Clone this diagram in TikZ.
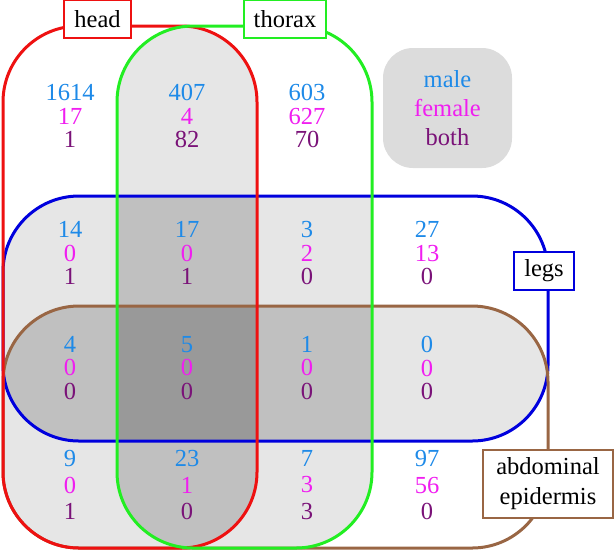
\documentclass[tikz,border=0pt]{standalone}
\usepackage{fontspec}
\setmainfont{Liberation Serif}
\usepackage{xcolor}
\definecolor{male}{HTML}{1E8AE8}
\definecolor{female}{HTML}{F01EF0}
\definecolor{both}{HTML}{7A1278}
\definecolor{headc}{HTML}{EE1111}
\definecolor{thoraxc}{HTML}{22EE22}
\definecolor{legsc}{HTML}{0000DD}
\definecolor{abdc}{HTML}{996644}
\definecolor{lap2}{HTML}{E6E6E6}
\definecolor{lap3}{HTML}{C0C0C0}
\definecolor{lap4}{HTML}{999999}
\definecolor{keybg}{HTML}{DCDCDC}

% the four sets, in pixels
\def\headset{(3,26) rectangle (257,548)}
\def\thoraxset{(117,26) rectangle (372,548)}
\def\legsset{(3,196) rectangle (548,441)}
\def\abdset{(3,306) rectangle (548,548)}
\newcommand{\mfb}[3]{\textcolor{male}{#1}\\\textcolor{female}{#2}\\\textcolor{both}{#3}}

\begin{document}
\begin{tikzpicture}[x=0.5pt, y=-0.5pt,
    set/.style={rounded corners=38pt},
    rim/.style={set, draw=#1, line width=1.5pt},
    tag/.style={rectangle, draw=#1, fill=white, line width=1pt,
                inner xsep=5pt, minimum height=19pt, font=\fontsize{12.25}{15}\selectfont},
    counts/.style={align=center, inner sep=0pt, font=\fontsize{12.25}{11.8}\selectfont},
    keybox/.style={rectangle, rounded corners=15pt, fill=keybg, align=center,
                   minimum width=64.5pt, minimum height=60pt, font=\fontsize{12.25}{14.5}\selectfont}
]
\useasboundingbox (0,0) rectangle (614,553);

% overlaps: two, three and four sets
\foreach \p/\q in {\headset/\thoraxset,\headset/\legsset,\headset/\abdset,
                   \thoraxset/\legsset,\thoraxset/\abdset,\legsset/\abdset}
  {\begin{scope}\clip[set] \p; \fill[set, lap2] \q; \end{scope}}
\foreach \p/\q/\r in {\headset/\thoraxset/\legsset,\headset/\thoraxset/\abdset,
                      \headset/\legsset/\abdset,\thoraxset/\legsset/\abdset}
  {\begin{scope}\clip[set] \p; \clip[set] \q; \fill[set, lap3] \r; \end{scope}}
\begin{scope}
  \clip[set] \headset; \clip[set] \thoraxset; \clip[set] \legsset;
  \fill[set, lap4] \abdset;
\end{scope}

\draw[rim=legsc] \legsset;
\draw[rim=abdc] \abdset;
\draw[rim=headc] \headset;
\draw[rim=thoraxc] \thoraxset;

\node[tag=headc] (head) at (97.5,19) {head};
\node[tag=thoraxc] (thorax) at (285,19) {thorax};
\node[tag=legsc] (legs) at (544,271) {legs};
\node[tag=abdc, align=center, minimum width=65pt, minimum height=34pt] (abd) at (548,484) {abdominal\\epidermis};

\node[keybox] (key) at (447.5,108) {\textcolor{male}{male}\\\textcolor{female}{female}\\\textcolor{both}{both}};

\node[counts] (h) at (70,116) {\mfb{1614}{17}{1}};
\node[counts] (ht) at (187,116) {\mfb{407}{4}{82}};
\node[counts] (t) at (307,116) {\mfb{603}{627}{70}};

\node[counts] (hl) at (70,253) {\mfb{14}{0}{1}};
\node[counts] (htl) at (187,253) {\mfb{17}{0}{1}};
\node[counts] (tl) at (307,253) {\mfb{3}{2}{0}};
\node[counts] (l) at (427,253) {\mfb{27}{13}{0}};

\node[counts] (hla) at (70,368) {\mfb{4}{0}{0}};
\node[counts] (htla) at (187,368) {\mfb{5}{0}{0}};
\node[counts] (tla) at (307,368) {\mfb{1}{0}{0}};
\node[counts] (la) at (427,368) {\mfb{0}{0}{0}};

\node[counts, font=\fontsize{12.25}{13.2}\selectfont] (ha) at (70,485) {\mfb{9}{0}{1}};
\node[counts, font=\fontsize{12.25}{13.2}\selectfont] (hta) at (187,485) {\mfb{23}{1}{0}};
\node[counts, font=\fontsize{12.25}{13.2}\selectfont] (ta) at (307,485) {\mfb{7}{3}{3}};
\node[counts, font=\fontsize{12.25}{13.2}\selectfont] (a) at (427,485) {\mfb{97}{56}{0}};
\end{tikzpicture}
\end{document}
